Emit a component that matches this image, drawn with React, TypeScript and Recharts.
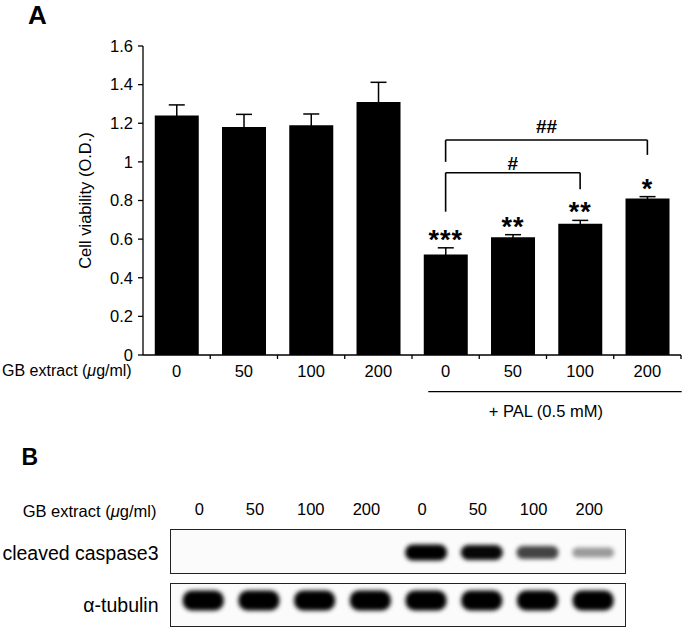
import React from "react";
import { BarChart, Bar, XAxis, YAxis, ErrorBar, LabelList, ReferenceLine } from "recharts";

const doses = ["0", "50", "100", "200", "0", "50", "100", "200"];
const viability = [1.24, 1.18, 1.19, 1.31, 0.52, 0.61, 0.68, 0.81];
const viabilitySem = [0.055, 0.066, 0.058, 0.102, 0.035, 0.013, 0.017, 0.01];
const significance = ["", "", "", "", "***", "**", "**", "*"];
const yTicks = [0, 0.2, 0.4, 0.6, 0.8, 1, 1.2, 1.4, 1.6];

// # / ## comparisons against PAL alone (bar indexes, heights in O.D.)
const bracketFrom = [4, 4];
const bracketTo = [7, 6];
const bracketMarks = ["##", "#"];
const bracketTop = [1.113, 0.944];
const bracketLeftFoot = [1.0, 0.742];
const bracketRightFoot = [1.036, 0.858];

// western blot band intensities (0..1)
const caspaseLevel = [0, 0, 0, 0, 1, 0.9, 0.68, 0.36];
const tubulinLevel = [1, 1, 1, 1, 1, 1, 1, 1];

const FONT = "'Liberation Sans', Arial, Helvetica, sans-serif";
const CHART_W = 685;
const CHART_H = 400;
const M = { top: 46, right: 4, bottom: 15, left: 0 };
const Y_AXIS_W = 143;
const X_AXIS_H = 30;
const PLOT_H = CHART_H - M.top - M.bottom - X_AXIS_H;
const PX_PER_UNIT = PLOT_H / 1.6;
const BAND = (CHART_W - Y_AXIS_W - M.right) / doses.length;
const X_TICK_MARGIN = 10;

const rows = doses.map((d, i) => ({
  key: `g${i}`,
  dose: d,
  value: viability[i],
  err: viabilitySem[i],
  sig: significance[i],
}));

const lanes = doses.map((d, i) => ({
  lane: `L${i}`,
  dose: d,
  caspase: caspaseLevel[i],
  tubulin: tubulinLevel[i],
}));

// dose label plus a tick mark at the right edge of each category
const DoseTick = (props: any) => {
  const { x, y, index, payload } = props;
  const half = payload && payload.offset ? payload.offset : BAND / 2;
  const axisY = y - X_TICK_MARGIN;
  return (
    <g>
      <line x1={x + half} x2={x + half} y1={axisY} y2={axisY + 4} stroke="#000" strokeWidth={1.3} />
      <text x={x} y={y} dy="0.71em" textAnchor="middle" fontSize={16.5} fill="#000" fontFamily={FONT}>
        {doses[index]}
      </text>
    </g>
  );
};

const StarLabel = (props: any) => {
  const { x, y, width, value, index } = props;
  if (!value) return null;
  const errPx = viabilitySem[index] * PX_PER_UNIT;
  return (
    <text
      x={Number(x) + Number(width) / 2}
      y={Number(y) - errPx + 1}
      textAnchor="middle"
      fontSize={27}
      fontWeight="bold"
      letterSpacing={1}
      fill="#000"
      fontFamily={FONT}
    >
      {value}
    </text>
  );
};

const CaspaseBand = (props: any) => {
  const { x, y, width, height, payload } = props;
  const level = payload.caspase;
  if (!level) return null;
  const bottom = y + height;
  const h = 7 + 9 * level;
  const cy = bottom - 21.5;
  return (
    <rect
      x={x - 1}
      y={cy - h / 2}
      width={width + 2}
      height={h}
      rx={h / 2}
      fill="#000"
      fillOpacity={Math.min(1, level * 1.08)}
      filter="url(#blotBlur)"
    />
  );
};

const TubulinBand = (props: any) => {
  const { x, y, width, height, payload } = props;
  if (!payload.tubulin) return null;
  const bottom = y + height;
  const h = 20;
  const cy = bottom - 26.5;
  return (
    <rect
      x={x}
      y={cy - h / 2}
      width={width}
      height={h}
      rx={9}
      fill="#000"
      fillOpacity={payload.tubulin}
      filter="url(#blotBlur)"
    />
  );
};

const boxStyle: React.CSSProperties = {
  position: "absolute",
  left: 170,
  width: 456,
  border: "1.5px solid #222",
  boxSizing: "border-box",
  background: "#fbfbfb",
};

export default function App() {
  return (
    <div
      style={{
        position: "absolute",
        left: 0,
        top: 0,
        width: 685,
        height: 628,
        background: "#fff",
        fontFamily: FONT,
        overflow: "hidden",
      }}
    >
      <svg width={0} height={0} style={{ position: "absolute" }}>
        <defs>
          <filter id="blotBlur" x="-30%" y="-100%" width="160%" height="300%">
            <feGaussianBlur stdDeviation="2.2" />
          </filter>
        </defs>
      </svg>

      {/* A: cell viability */}
      <div style={{ position: "absolute", left: 0, top: 0 }}>
        <BarChart width={CHART_W} height={CHART_H} data={rows} margin={M} barCategoryGap="17.5%">
          <XAxis
            dataKey="key"
            height={X_AXIS_H}
            interval={0}
            tick={<DoseTick />}
            tickLine={false}
            tickSize={0}
            tickMargin={X_TICK_MARGIN}
            axisLine={{ stroke: "#000", strokeWidth: 1.3 }}
          />
          <YAxis
            width={Y_AXIS_W}
            domain={[0, 1.6]}
            ticks={yTicks}
            interval={0}
            tick={{ fill: "#000", fontSize: 16.5, fontFamily: FONT }}
            tickSize={5}
            tickMargin={5}
            axisLine={{ stroke: "#000", strokeWidth: 1.3 }}
            tickLine={{ stroke: "#000", strokeWidth: 1.3 }}
          />
          <Bar dataKey="value" fill="#000" isAnimationActive={false}>
            <ErrorBar dataKey="err" width={8} stroke="#000" strokeWidth={1.5} direction="y" />
            <LabelList dataKey="sig" content={<StarLabel />} />
          </Bar>
          {bracketMarks.map((mark, i) => (
            <ReferenceLine
              key={`top-${i}`}
              segment={[
                { x: rows[bracketFrom[i]].key, y: bracketTop[i] },
                { x: rows[bracketTo[i]].key, y: bracketTop[i] },
              ]}
              stroke="#000"
              strokeWidth={1.6}
              label={{
                value: mark,
                position: "top",
                offset: i === 0 ? 7 : 3,
                fill: "#000",
                fontSize: 19,
                fontWeight: "bold",
                fontFamily: FONT,
              }}
            />
          ))}
          {bracketMarks.map((_, i) => (
            <ReferenceLine
              key={`left-${i}`}
              segment={[
                { x: rows[bracketFrom[i]].key, y: bracketTop[i] },
                { x: rows[bracketFrom[i]].key, y: bracketLeftFoot[i] },
              ]}
              stroke="#000"
              strokeWidth={1.6}
            />
          ))}
          {bracketMarks.map((_, i) => (
            <ReferenceLine
              key={`right-${i}`}
              segment={[
                { x: rows[bracketTo[i]].key, y: bracketTop[i] },
                { x: rows[bracketTo[i]].key, y: bracketRightFoot[i] },
              ]}
              stroke="#000"
              strokeWidth={1.6}
            />
          ))}
        </BarChart>
      </div>

      {/* B: western blot */}
      <div style={{ ...boxStyle, top: 529.3, height: 44.7 }} />
      <div style={{ ...boxStyle, top: 582.7, height: 44 }} />

      <div style={{ position: "absolute", left: 0, top: 495 }}>
        <BarChart
          width={CHART_W}
          height={79}
          data={lanes}
          margin={{ top: 0, right: 63.9, bottom: 0, left: 175.5 }}
          barCategoryGap="14%"
        >
          <XAxis
            dataKey="lane"
            orientation="top"
            height={34.3}
            interval={0}
            tickFormatter={(_v: any, i: number) => doses[i]}
            tick={{ fill: "#000", fontSize: 16.5, fontFamily: FONT, dx: -4 }}
            tickLine={false}
            axisLine={false}
            tickSize={0}
            tickMargin={14}
          />
          <YAxis hide domain={[0, 1]} />
          <Bar dataKey="caspase" shape={<CaspaseBand />} isAnimationActive={false} />
        </BarChart>
      </div>

      <div style={{ position: "absolute", left: 0, top: 582.7 }}>
        <BarChart
          width={CHART_W}
          height={44}
          data={lanes}
          margin={{ top: 0, right: 63.9, bottom: 0, left: 175.5 }}
          barCategoryGap="13%"
        >
          <XAxis dataKey="lane" hide />
          <YAxis hide domain={[0, 1]} />
          <Bar dataKey="tubulin" shape={<TubulinBand />} isAnimationActive={false} />
        </BarChart>
      </div>

      {/* panel letters and side labels */}
      <svg
        width={685}
        height={628}
        style={{ position: "absolute", left: 0, top: 0, pointerEvents: "none" }}
        fontFamily={FONT}
      >
        <text x={28} y={23.5} fontSize={26} fontWeight="bold" fill="#000">A</text>
        <text
          transform="translate(85, 200.5) rotate(-90)"
          textAnchor="middle"
          dominantBaseline="central"
          fontSize={16.5}
          fill="#000"
        >
          Cell viability (O.D.)
        </text>
        <text x={2} y={376} fontSize={16} fill="#000">
          GB extract (<tspan fontStyle="italic">μ</tspan>g/ml)
        </text>
        <line x1={428.3} x2={681.7} y1={391.7} y2={391.7} stroke="#000" strokeWidth={1.3} />
        <text x={545.8} y={417.3} textAnchor="middle" fontSize={16.5} fill="#000">
          + PAL (0.5 mM)
        </text>

        <text x={21.5} y={465} fontSize={23} fontWeight="bold" fill="#000">B</text>
        <text x={22.7} y={516.5} fontSize={16.5} fill="#000">
          GB extract (<tspan fontStyle="italic">μ</tspan>g/ml)
        </text>
        <text x={158.5} y={559.5} textAnchor="end" fontSize={19.5} fill="#000">
          cleaved caspase3
        </text>
        <text x={158.5} y={611.7} textAnchor="end" fontSize={19.5} fill="#000">
          α-tubulin
        </text>
      </svg>
    </div>
  );
}
